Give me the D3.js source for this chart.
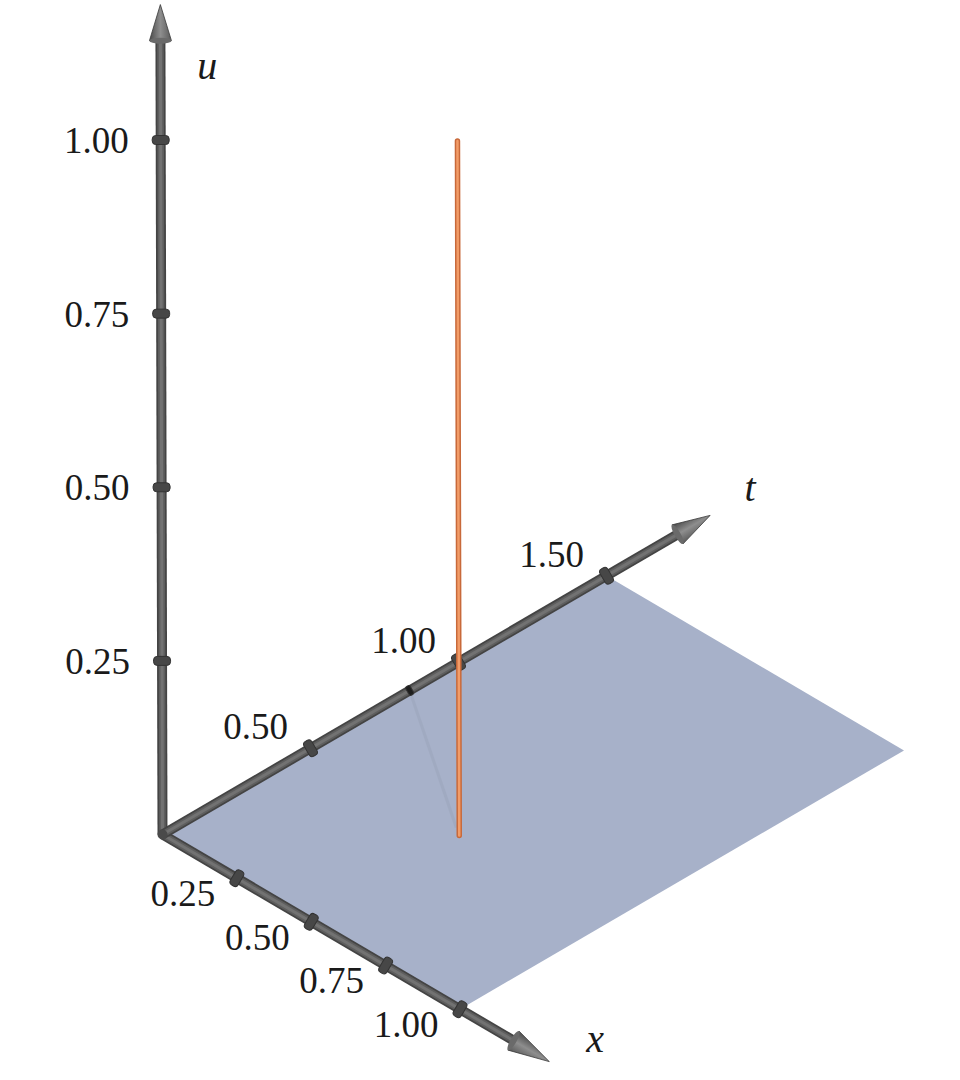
<!DOCTYPE html>
<html><head><meta charset="utf-8">
<script src="https://cdn.jsdelivr.net/npm/d3@7"></script>
<style>html,body{margin:0;padding:0;background:#fff}</style>
</head><body>
<script>
// ---- data ----
const uTicks = [0.25, 0.5, 0.75, 1.0];
const xTicks = [0.25, 0.5, 0.75, 1.0];
const tTicks = [0.5, 1.0, 1.5];
const uTickLabels = ["0.25", "0.50", "0.75", "1.00"];
const xTickLabels = ["0.25", "0.50", "0.75", "1.00"];
const tTickLabels = ["0.50", "1.00", "1.50"];
const planeX = [0, 1];
const planeT = [0, 1.5];
const segmentPoint = {x: 0.5, t: 0.5};
const segmentU = [0, 1];
const axisMax = {x: 1.30, t: 1.85, u: 1.195};

// ---- projection (3D -> screen) via linear scales ----
const W = 960, H = 1080;
const px = d3.scaleLinear().domain([0, 1]).range([0, 297.5]);
const py = d3.scaleLinear().domain([0, 1]).range([0, 174.7]);
const qx = d3.scaleLinear().domain([0, 1]).range([0, 296]);
const qy = d3.scaleLinear().domain([0, 1]).range([0, -172.5]);
const uScaleY = d3.scaleLinear().domain([0, 1]).range([0, -694.5]);
const uScaleX = d3.scaleLinear().domain([0, 1]).range([0, -1.8]);
const O = [162.5, 834.5];
function P(x, t, u) {
  return [O[0] + px(x) + qx(t) + uScaleX(u), O[1] + py(x) + qy(t) + uScaleY(u)];
}

const svg = d3.select("body").append("svg").attr("width", W).attr("height", H);
const defs = svg.append("defs");
const serif = "'Liberation Serif','DejaVu Serif',serif";

// plane
const corners = [P(planeX[0], planeT[0], 0), P(planeX[1], planeT[0], 0), P(planeX[1], planeT[1], 0), P(planeX[0], planeT[1], 0)];
svg.append("path").attr("d", d3.line()(corners) + "Z").attr("fill", "#a7b1c9");

// faint shadow line
const sh0 = P(0, 0.835, 0), sh1 = P(segmentPoint.x, segmentPoint.t, 0);
svg.append("line").attr("x1", sh0[0]).attr("y1", sh0[1]).attr("x2", sh1[0] - 3).attr("y2", sh1[1] - 8)
  .attr("stroke", "#9ea8be").attr("stroke-width", 3).attr("opacity", 0.7);

function tube(a, b, w) {
  const g = svg.append("g");
  g.append("line").attr("x1", a[0]).attr("y1", a[1]).attr("x2", b[0]).attr("y2", b[1])
    .attr("stroke", "#444").attr("stroke-width", w);
  g.append("line").attr("x1", a[0]).attr("y1", a[1]).attr("x2", b[0]).attr("y2", b[1])
    .attr("stroke", "#5e5e5e").attr("stroke-width", w * 0.65);
  g.append("line").attr("x1", a[0]).attr("y1", a[1]).attr("x2", b[0]).attr("y2", b[1])
    .attr("stroke", "#727272").attr("stroke-width", w * 0.3);
  return g;
}
function ring(p, dir, w, h, col) {
  const ang = Math.atan2(dir[1], dir[0]) * 180 / Math.PI;
  svg.append("rect").attr("x", -h / 2).attr("y", -w / 2).attr("width", h).attr("height", w).attr("rx", h / 2.5)
    .attr("transform", `translate(${p[0]},${p[1]}) rotate(${ang})`)
    .attr("fill", col || "#474747").attr("stroke", "#333").attr("stroke-width", 1);
}
function cone(base, tip, halfW) {
  const dx = tip[0] - base[0], dy = tip[1] - base[1];
  const L = Math.hypot(dx, dy), nx = -dy / L, ny = dx / L;
  const p1 = [base[0] + nx * halfW, base[1] + ny * halfW], p2 = [base[0] - nx * halfW, base[1] - ny * halfW];
  const id = "g" + Math.round(base[0]) + "_" + Math.round(base[1]);
  const gr = defs.append("linearGradient").attr("id", id).attr("gradientUnits", "userSpaceOnUse")
    .attr("x1", p1[0]).attr("y1", p1[1]).attr("x2", p2[0]).attr("y2", p2[1]);
  gr.append("stop").attr("offset", 0).attr("stop-color", "#5a5a5a");
  gr.append("stop").attr("offset", 0.5).attr("stop-color", "#8e8e8e");
  gr.append("stop").attr("offset", 1).attr("stop-color", "#4a4a4a");
  svg.append("path").attr("d", d3.line()([p1, tip, p2]) + "Z").attr("fill", `url(#${id})`)
    .attr("stroke", "#3a3a3a").attr("stroke-width", 0.8);
  svg.append("ellipse").attr("cx", base[0]).attr("cy", base[1]).attr("rx", 3).attr("ry", halfW)
    .attr("transform", `rotate(${Math.atan2(dy, dx) * 180 / Math.PI},${base[0]},${base[1]})`)
    .attr("fill", "#6a6a6a");
}

const tubeW = 10;
const ringW = 17, ringH = 9;
// u axis
const uEnd = P(0, 0, axisMax.u), uBase = P(0, 0, axisMax.u - 0.052);
tube(P(0, 0, 0), uBase, tubeW);
uTicks.forEach(v => ring(P(0, 0, v), [0, 1], ringW, ringH));
cone(uBase, uEnd, 11);
// x axis
const xEnd = P(axisMax.x, 0, 0), xBase = P(axisMax.x - 0.12, 0, 0);
tube(P(0, 0, 0), xBase, tubeW);
xTicks.forEach(v => ring(P(v, 0, 0), [297.5, 174.7], ringW, ringH));
cone(xBase, xEnd, 11);
// t axis
const tEnd = P(0, axisMax.t, 0), tBase = P(0, axisMax.t - 0.11, 0);
tube(P(0, 0, 0), tBase, tubeW);
tTicks.forEach(v => ring(P(0, v, 0), [296, -172.5], ringW, ringH));
cone(tBase, tEnd, 11);
// dark mark on t axis
ring(P(0, 0.835, 0), [296, -172.5], 10, 5, "#1e1e1e");

// corner joint
svg.append("circle").attr("cx", O[0]).attr("cy", O[1]).attr("r", 5).attr("fill", "#4a4a4a");

// orange segment
const s0 = P(segmentPoint.x, segmentPoint.t, segmentU[0]), s1 = P(segmentPoint.x, segmentPoint.t, segmentU[1]);
svg.append("line").attr("x1", s0[0]).attr("y1", s0[1]).attr("x2", s1[0]).attr("y2", s1[1])
  .attr("stroke", "#c8693a").attr("stroke-width", 5.5).attr("stroke-linecap", "round");
svg.append("line").attr("x1", s0[0]).attr("y1", s0[1]).attr("x2", s1[0]).attr("y2", s1[1])
  .attr("stroke", "#f29c68").attr("stroke-width", 2.5).attr("stroke-linecap", "round");

// tick labels
const fs = 37;
const txtCol = "#1a1a1a";
uTicks.forEach((v, i) => {
  const p = P(0, 0, v);
  svg.append("text").attr("x", p[0] - 32).attr("y", p[1]).attr("dy", "0.35em")
    .attr("text-anchor", "end").attr("font-family", serif).attr("font-size", fs).attr("fill", txtCol).text(uTickLabels[i]);
});
xTicks.forEach((v, i) => {
  const p = P(v, 0, 0);
  svg.append("text").attr("x", p[0] - 54).attr("y", p[1] + 15).attr("dy", "0.35em")
    .attr("text-anchor", "middle").attr("font-family", serif).attr("font-size", fs).attr("fill", txtCol).text(xTickLabels[i]);
});
tTicks.forEach((v, i) => {
  const p = P(0, v, 0);
  svg.append("text").attr("x", p[0] - 55).attr("y", p[1] - 22).attr("dy", "0.35em")
    .attr("text-anchor", "middle").attr("font-family", serif).attr("font-size", fs).attr("fill", txtCol).text(tTickLabels[i]);
});

// axis labels
const lab = (x, y, s) => svg.append("text").attr("x", x).attr("y", y).attr("dy", "0.35em")
  .attr("text-anchor", "middle").attr("font-family", serif).attr("font-style", "italic")
  .attr("font-size", 40).attr("fill", txtCol).text(s);
const ul = P(0, 0, axisMax.u), xl = P(axisMax.x, 0, 0), tl = P(0, axisMax.t, 0);
lab(ul[0] + 47, ul[1] + 60, "u");
lab(xl[0] + 46, xl[1] - 24, "x");
lab(tl[0] + 40, tl[1] - 28, "t");
</script>
</body></html>
